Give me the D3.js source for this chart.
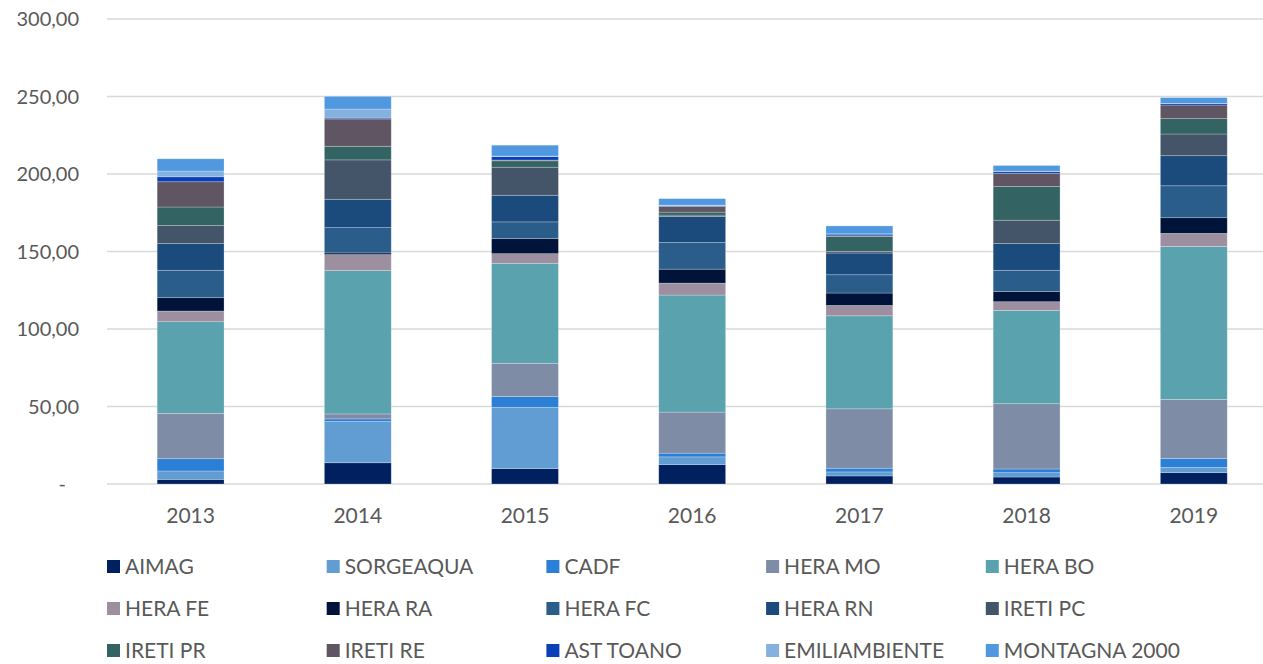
<!DOCTYPE html>
<html>
<head>
<meta charset="utf-8">
<script src="https://cdn.jsdelivr.net/npm/d3@7"></script>
<style>
  html, body { margin: 0; padding: 0; background: #fff; }
  svg text { font-family: Lato, "Open Sans", sans-serif; fill: #595959; }
</style>
</head>
<body>
<div id="chart"></div>
<script>
// --- data ---
const years = ["2013", "2014", "2015", "2016", "2017", "2018", "2019"];

const aimag         = [3.0, 13.7, 9.9, 12.5, 5.2, 4.5, 7.3];
const sorgeaqua     = [5.4, 26.6, 39.6, 5.0, 2.6, 2.8, 3.4];
const cadf          = [7.9, 1.7, 6.9, 2.4, 2.4, 2.4, 5.8];
const heraMO        = [29.3, 3.2, 21.5, 26.5, 38.3, 42.1, 38.1];
const heraBO        = [59.1, 92.5, 64.5, 75.5, 60.0, 60.2, 98.7];
const heraFE        = [6.9, 10.3, 6.2, 7.7, 6.7, 5.6, 8.4];
const heraRA        = [8.6, 1.1, 9.7, 9.0, 8.0, 6.5, 10.1];
const heraFC        = [17.7, 16.3, 10.8, 17.2, 11.8, 13.8, 20.6];
const heraRN        = [17.2, 18.3, 17.2, 16.8, 14.0, 17.2, 19.4];
const iretiPC       = [11.6, 25.4, 18.1, 0.9, 1.1, 15.1, 14.0];
const iretiPR       = [12.0, 8.8, 4.1, 1.9, 9.7, 21.7, 9.9];
const iretiRE       = [16.3, 17.6, 0.5, 3.7, 0.3, 8.6, 8.8];
const astToano      = [3.2, 0.6, 2.2, 0.4, 1.1, 1.1, 0.9];
const emiliambiente = [3.7, 5.8, 0.4, 0.4, 0.2, 0.2, 0.2];
const montagna2000  = [7.9, 8.2, 7.0, 4.2, 5.1, 3.7, 3.7];

const seriesNames = ["AIMAG", "SORGEAQUA", "CADF", "HERA MO", "HERA BO",
  "HERA FE", "HERA RA", "HERA FC", "HERA RN", "IRETI PC",
  "IRETI PR", "IRETI RE", "AST TOANO", "EMILIAMBIENTE", "MONTAGNA 2000"];
const seriesValues = [aimag, sorgeaqua, cadf, heraMO, heraBO, heraFE, heraRA,
  heraFC, heraRN, iretiPC, iretiPR, iretiRE, astToano, emiliambiente, montagna2000];
const seriesColors = ["#01205f", "#619cd2", "#2b7fd7", "#7f8ca6", "#5aa2ad",
  "#9d8f9f", "#00143a", "#2a5d8a", "#1b4a7d", "#455569",
  "#346363", "#605562", "#0a3fb8", "#85b1de", "#5099e0"];

const yTicks = [0, 50, 100, 150, 200, 250, 300];

// --- build rows for d3.stack ---
const rows = years.map(function(y, i) {
  const row = { year: y };
  seriesNames.forEach(function(name, s) { row[name] = seriesValues[s][i]; });
  return row;
});
const stacked = d3.stack().keys(seriesNames)(rows);

// --- svg setup ---
const W = 1263, H = 664;
const svg = d3.select("#chart").append("svg")
  .attr("width", W)
  .attr("height", H);

const x = d3.scaleBand()
  .domain(years)
  .range([107, 1277.4])
  .paddingInner(0.6)
  .paddingOuter(0.3);

const y = d3.scaleLinear()
  .domain([0, 300])
  .range([484, 19]);

// gridlines
svg.append("g")
  .selectAll("line")
  .data(yTicks)
  .join("line")
  .attr("x1", 107)
  .attr("x2", W)
  .attr("y1", function(d){ return y(d); })
  .attr("y2", function(d){ return y(d); })
  .attr("stroke", "#d9d9d9")
  .attr("stroke-width", 1.4);

// y labels (Excel style: 0 shown as "-")
const fmt = d3.formatLocale({ decimal: ",", thousands: ".", grouping: [3], currency: ["", ""] }).format(",.2f");
svg.append("g")
  .selectAll("text")
  .data(yTicks)
  .join("text")
  .attr("x", function(d){ return d === 0 ? 66 : 79; })
  .attr("y", function(d){ return y(d); })
  .attr("dy", "0.36em")
  .attr("text-anchor", "end")
  .style("font-size", "20px")
  .text(function(d){ return d === 0 ? "-" : fmt(d); });

// bars
svg.append("g")
  .selectAll("g")
  .data(stacked)
  .join("g")
  .attr("fill", function(d, i){ return seriesColors[i]; })
  .selectAll("rect")
  .data(function(d){ return d; })
  .join("rect")
  .attr("x", function(d){ return x(d.data.year); })
  .attr("y", function(d){ return y(d[1]); })
  .attr("width", x.bandwidth())
  .attr("height", function(d){ return y(d[0]) - y(d[1]); })
  .attr("stroke", "#ffffff")
  .attr("stroke-opacity", 0.35)
  .attr("stroke-width", 0.7);

// x labels
svg.append("g")
  .selectAll("text")
  .data(years)
  .join("text")
  .attr("x", function(d){ return x(d) + x.bandwidth() / 2; })
  .attr("y", 523)
  .attr("text-anchor", "middle")
  .style("font-size", "21px")
  .text(function(d){ return d; });

// legend: 5 columns x 3 rows
const legend = svg.append("g")
  .selectAll("g")
  .data(seriesNames)
  .join("g")
  .attr("transform", function(d, i){
    const col = i % 5, row = Math.floor(i / 5);
    return "translate(" + (107 + col * 219.7) + "," + (566.5 + row * 42) + ")";
  });

legend.append("rect")
  .attr("x", 0)
  .attr("y", -6.5)
  .attr("width", 13)
  .attr("height", 13)
  .attr("fill", function(d, i){ return seriesColors[i]; });

legend.append("text")
  .attr("x", 18)
  .attr("y", 0)
  .attr("dy", "0.36em")
  .style("font-size", "21px")
  .text(function(d){ return d; });
</script>
</body>
</html>
